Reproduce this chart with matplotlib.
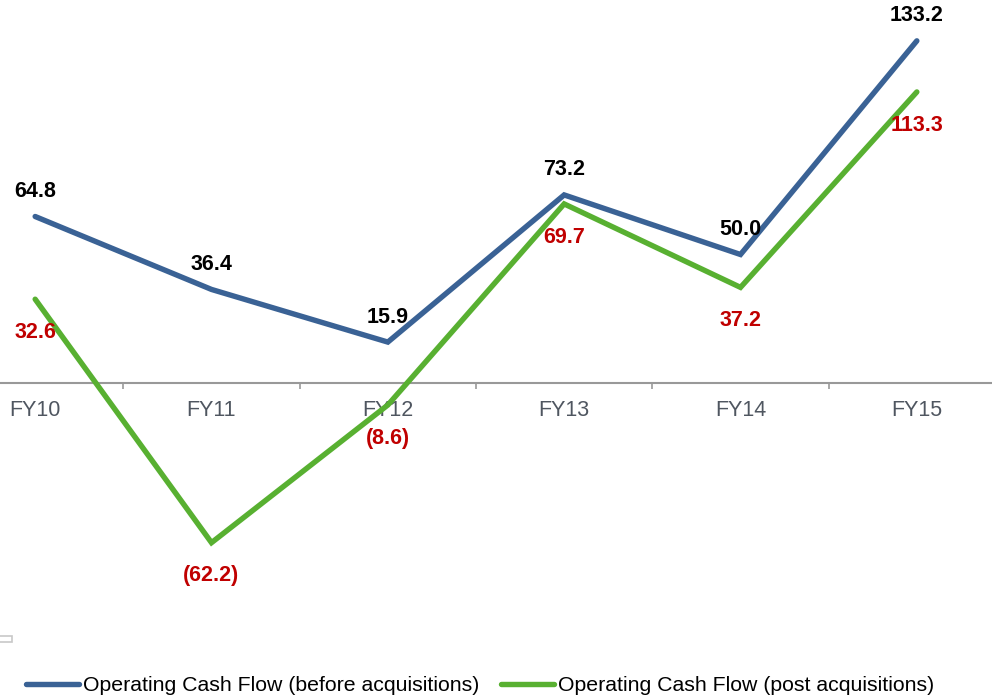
import matplotlib
matplotlib.use("Agg")
import matplotlib.pyplot as plt
from matplotlib.patches import Rectangle

plt.rcParams["font.family"] = ["Liberation Sans", "DejaVu Sans"]

# Datos (USD mn)
anios = ["FY10", "FY11", "FY12", "FY13", "FY14", "FY15"]
ocf_antes = [64.8, 36.4, 15.9, 73.2, 50.0, 133.2]
ocf_despues = [32.6, -62.2, -8.6, 69.7, 37.2, 113.3]
nombres = ["Operating Cash Flow (before acquisitions)",
           "Operating Cash Flow (post acquisitions)"]

AZUL = "#3A6295"
VERDE = "#58B031"
ROJO = "#C00000"
GRIS = "#999999"
FS = 15.5


def etiqueta(v):
    return f"({abs(v):.1f})" if v < 0 else f"{v:.1f}"


fig = plt.figure(figsize=(9.92, 6.96), dpi=100)
# el area de trazado sale un poco por los lados, como en el original
ax = fig.add_axes([-53 / 992, 56 / 696, 1058 / 992, 640 / 696])
ax.set_xlim(-0.5, 5.5)
ax.set_ylim(-100.1, 149.1)

x = list(range(len(anios)))
l1, = ax.plot(x, ocf_antes, color=AZUL, lw=3.9, solid_capstyle="round",
              solid_joinstyle="miter", zorder=3)
l2, = ax.plot(x, ocf_despues, color=VERDE, lw=3.9, solid_capstyle="round",
              solid_joinstyle="miter", zorder=3)

for xi, v in zip(x, ocf_antes):
    ax.annotate(etiqueta(v), (xi, v), xytext=(0, 18), textcoords="offset points",
                ha="center", va="center", fontsize=FS, fontweight="bold",
                color="black", zorder=5)
for xi, v in zip(x, ocf_despues):
    ax.annotate(etiqueta(v), (xi, v), xytext=(0, -24), textcoords="offset points",
                ha="center", va="center", fontsize=FS, fontweight="bold",
                color=ROJO, zorder=5)

for s in ["top", "right", "left"]:
    ax.spines[s].set_visible(False)
ax.spines["bottom"].set_position(("data", 0))
ax.spines["bottom"].set_color(GRIS)
ax.spines["bottom"].set_linewidth(1.5)
ax.set_yticks([])
ax.set_xticks(x)
ax.set_xticklabels(anios, fontsize=FS, color="#4F5660")
ax.set_xticks([i + 0.5 for i in range(-1, 6)], minor=True)
ax.tick_params(axis="x", which="major", length=0, pad=12.5)
ax.tick_params(axis="x", which="minor", length=4.5, width=1.2, color=GRIS,
               direction="out")
ax.patch.set_alpha(0)

fig.patches.append(Rectangle((-2 / 992, 54 / 696), 14 / 992, 6 / 696,
                             transform=fig.transFigure, fill=False,
                             edgecolor="#C8C8C8", lw=1.2))

fig.legend([l1, l2], nombres, loc="lower left", bbox_to_anchor=(25 / 992, 0.0),
           ncol=2, frameon=False, fontsize=15.3, borderpad=0, borderaxespad=0.05,
           handlelength=2.5, handletextpad=0.2, columnspacing=1.0)

fig.savefig("out.png", dpi=100)
